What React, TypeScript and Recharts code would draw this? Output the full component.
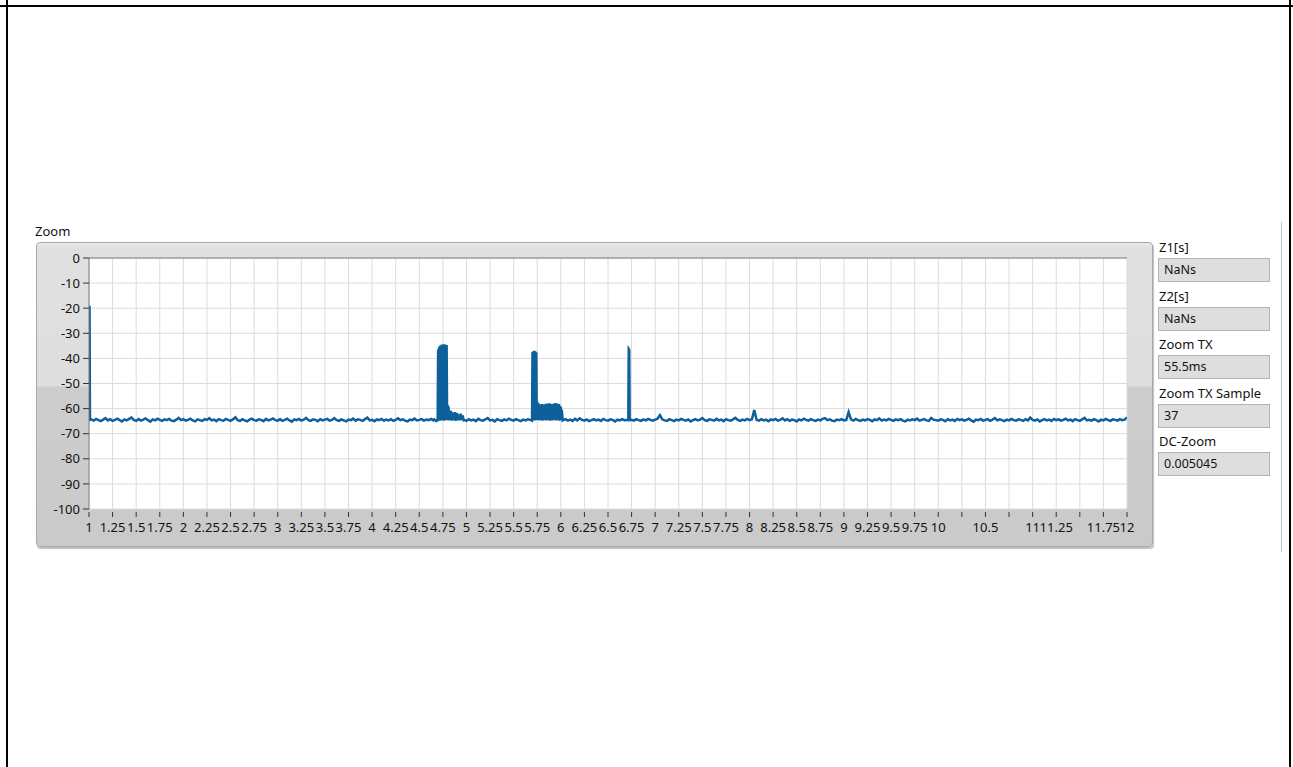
import { LineChart, Line, XAxis, YAxis, CartesianGrid, ReferenceLine } from "recharts"

// sweep start: first sample sits high, then drops to the floor
const leadIn: [number, number][] = [
  [1.006, -19],
  [1.01, -64.5],
]

// quiet floor, 0.025 s between samples
const quiet1Start = 1.025
const quiet1 = [
  -64.3, -64.8, -64.1, -64.6, -65.0, -64.4, -63.8, -64.7, -64.2, -64.9,
  -64.5, -64.0, -64.6, -65.1, -64.3, -64.7, -64.1, -63.6, -64.5, -64.9,
  -64.2, -64.8, -64.4, -63.9, -64.6, -65.2, -64.3, -64.7, -64.0, -64.5,
  -64.9, -64.3, -64.6, -64.1, -64.8, -65.0, -64.4, -63.7, -64.6, -64.2,
  -64.8, -64.5, -64.0, -64.7, -65.1, -64.3, -64.6, -64.9, -64.2, -64.5,
  -63.8, -64.7, -64.4, -65.0, -64.2, -64.6, -64.8, -64.1, -64.5, -64.9,
  -64.3, -63.5, -64.6, -64.9, -64.2, -64.7, -65.1, -64.4, -64.0, -64.6,
  -64.8, -64.3, -64.5, -65.0, -64.1, -64.7, -64.4, -63.9, -64.6, -64.8,
  -64.2, -64.9, -64.5, -64.0, -64.7, -65.2, -64.3, -64.6, -64.1, -64.8,
  -64.4, -63.7, -64.6, -64.9, -64.3, -64.5, -65.0, -64.2, -64.7, -64.4,
  -64.1, -64.8, -64.5, -63.8, -64.6, -64.9, -64.3, -64.7, -65.1, -64.4,
  -64.6, -64.0, -64.8, -64.3, -64.5, -64.9, -64.2, -63.6, -64.7, -64.5,
  -65.0, -64.3, -64.6, -64.1, -64.8, -64.4, -64.7, -64.2, -64.9, -64.5,
  -63.9, -64.6, -64.3, -64.8, -65.1, -64.4, -64.6, -64.0, -64.7, -64.5,
  -64.2, -64.8, -64.4, -64.6, -64.1, -64.7,
]

const burst1: [number, number][] = [
  [4.66, -64.3], [4.68, -64.9], [4.695, -64.6], [4.7, -36.5], [4.705, -64.5],
  [4.71, -35.6], [4.715, -64.8], [4.72, -35.0], [4.725, -64.4], [4.73, -34.8],
  [4.735, -64.7], [4.74, -34.5], [4.745, -64.6], [4.75, -34.6], [4.755, -64.3],
  [4.76, -34.4], [4.765, -64.8], [4.77, -34.5], [4.775, -64.5], [4.78, -34.6],
  [4.785, -64.4], [4.79, -34.7], [4.795, -64.6], [4.8, -58.5], [4.805, -64.2],
  [4.81, -59.2], [4.815, -64.7], [4.82, -61.5], [4.825, -64.5], [4.83, -60.8],
  [4.835, -64.6], [4.84, -61.2], [4.845, -64.8], [4.85, -61.7], [4.855, -64.3],
  [4.86, -62.0], [4.865, -64.6], [4.87, -61.6], [4.875, -64.4], [4.88, -61.4],
  [4.885, -64.9], [4.89, -62.2], [4.895, -64.5], [4.9, -61.8], [4.905, -64.4],
  [4.91, -62.5], [4.915, -64.7], [4.92, -62.3], [4.93, -64.7], [4.94, -62.0],
  [4.95, -64.5], [4.96, -62.8], [4.97, -64.6],
]

const quiet2Start = 4.975
const quiet2 = [
  -64.5, -64.9, -64.2, -64.7, -64.4, -65.0, -64.1, -64.6, -64.8, -64.3,
  -63.8, -64.7, -64.5, -65.1, -64.2, -64.6, -64.9, -64.3, -64.7, -64.0,
  -64.5, -64.8, -64.2, -64.6, -65.0, -64.4, -64.7, -64.3,
]

const burst2: [number, number][] = [
  [5.675, -64.5], [5.695, -64.8], [5.7, -37.5], [5.705, -64.6], [5.71, -37.2],
  [5.715, -64.3], [5.72, -37.0], [5.725, -64.7], [5.73, -37.3], [5.735, -64.5],
  [5.74, -37.6], [5.745, -64.4],
  [5.75, -57.2], [5.755, -64.6], [5.76, -57.8], [5.765, -64.3], [5.77, -59.0],
  [5.775, -64.7], [5.78, -58.3], [5.785, -64.5], [5.79, -58.6], [5.795, -64.4],
  [5.8, -58.2], [5.805, -64.8], [5.81, -58.9], [5.815, -64.3], [5.82, -58.4],
  [5.825, -64.6], [5.83, -58.7], [5.835, -64.5], [5.84, -58.1], [5.845, -64.7],
  [5.85, -58.5], [5.855, -64.4], [5.86, -58.0], [5.865, -64.6], [5.87, -58.6],
  [5.875, -64.3], [5.88, -57.9], [5.885, -64.8], [5.89, -58.4], [5.895, -64.5],
  [5.9, -58.2], [5.905, -64.4], [5.91, -58.8], [5.915, -64.7], [5.92, -58.1],
  [5.925, -64.5], [5.93, -58.5], [5.935, -64.6], [5.94, -57.8], [5.945, -64.3],
  [5.95, -58.3], [5.955, -64.7], [5.96, -58.0], [5.965, -64.5], [5.97, -58.6],
  [5.975, -64.4], [5.98, -58.2], [5.985, -64.8], [5.99, -58.9], [5.995, -64.5],
  [6.0, -59.3], [6.005, -64.6], [6.01, -60.5], [6.02, -64.7],
]

const quiet3Start = 6.025
const quiet3 = [
  -64.6, -64.2, -64.8, -64.4, -64.9, -64.1, -64.7, -63.9, -64.5, -64.8,
  -64.3, -65.0, -64.6, -64.2, -64.7, -64.4, -64.9, -64.1, -64.6, -64.8,
  -64.3, -64.5, -65.1, -64.4, -64.7, -64.2, -64.6, -64.5,
]

const burst3: [number, number][] = [
  [6.715, -64.5], [6.72, -36.3], [6.725, -36.6], [6.73, -64.6],
]

const quiet4Start = 6.75
const quiet4 = [
  -64.5, -64.8, -64.2, -64.6, -64.9, -64.3, -64.7, -64.1, -64.5, -64.8,
  -64.4, -64.0, -62.6, -64.3, -64.7, -64.9, -64.2, -64.6, -65.0, -64.4,
  -64.7, -64.1, -64.5, -64.8, -64.3, -65.1, -64.6, -64.2, -64.7, -64.4,
  -63.8, -64.6, -64.9, -64.3, -64.5, -64.8, -64.1, -64.7, -64.4, -65.0,
  -64.2, -64.6, -64.8, -64.3, -63.7, -64.5, -64.9, -64.4, -64.7, -64.1,
  -64.6, -64.3, -60.6, -64.5, -64.8, -64.2, -64.7, -64.4, -65.0, -64.3,
  -64.6, -64.1, -64.8, -64.5, -63.9, -64.7, -64.2, -64.9, -64.4, -64.6,
  -65.1, -64.3, -64.7, -64.0, -64.5, -64.8, -64.2, -64.6, -64.9, -64.4,
  -64.7, -64.1, -63.8, -64.6, -64.3, -64.8, -65.0, -64.4, -64.6, -64.2,
  -64.7, -64.5, -61.4, -64.3, -64.8, -64.1, -64.6, -64.9, -64.4, -64.7,
  -64.2, -64.5, -65.0, -64.3, -64.6, -63.9, -64.8, -64.4, -64.7, -64.1,
  -64.5, -64.9, -64.3, -64.6, -64.2, -64.8, -65.1, -64.4, -64.7, -64.3,
  -64.6, -64.0, -64.8, -64.5, -64.2, -64.7, -64.9, -63.7, -64.4, -64.6,
  -64.8, -64.3, -64.5, -65.0, -64.2, -64.7, -64.4, -64.9, -64.1, -64.6,
  -64.3, -64.8, -64.5, -64.0, -64.7, -65.2, -64.4, -64.6, -64.1, -64.8,
  -64.5, -64.2, -64.9, -64.4, -63.8, -64.7, -64.3, -64.6, -65.0, -64.4,
  -64.7, -64.1, -64.6, -64.8, -64.3, -64.5, -64.9, -64.2, -64.7, -63.6,
  -64.5, -64.8, -64.3, -65.1, -64.6, -64.2, -64.7, -64.4, -64.9, -64.1,
  -64.6, -64.3, -64.8, -64.5, -64.0, -64.7, -64.4, -65.0, -64.2, -64.6,
  -64.9, -64.3, -63.7, -64.7, -64.5, -64.8, -64.2, -64.6, -65.1, -64.4,
  -64.7, -64.1, -64.6, -64.9, -64.3, -64.5, -64.8, -64.2, -64.6, -64.4,
  -63.5,
]

const sampleStep = 0.025

const xTicks = [
  1, 1.25, 1.5, 1.75, 2, 2.25, 2.5, 2.75, 3, 3.25, 3.5, 3.75, 4, 4.25, 4.5, 4.75,
  5, 5.25, 5.5, 5.75, 6, 6.25, 6.5, 6.75, 7, 7.25, 7.5, 7.75, 8, 8.25, 8.5, 8.75,
  9, 9.25, 9.5, 9.75, 10, 10.25, 10.5, 10.75, 11, 11.25, 11.5, 11.75, 12,
]
// labels LabVIEW dropped because they would collide
const hiddenXLabels = [10.25, 10.75, 11.5]
const yTicks = [0, -10, -20, -30, -40, -50, -60, -70, -80, -90, -100]

const readouts = [
  { label: "Z1[s]", value: "NaNs" },
  { label: "Z2[s]", value: "NaNs" },
  { label: "Zoom TX", value: "55.5ms" },
  { label: "Zoom TX Sample", value: "37" },
  { label: "DC-Zoom", value: "0.005045" },
]

const even = (start: number, vals: number[]) =>
  vals.map((v, i) => [Math.round((start + i * sampleStep) * 1000) / 1000, v] as [number, number])

const data = [
  ...leadIn,
  ...even(quiet1Start, quiet1),
  ...burst1,
  ...even(quiet2Start, quiet2),
  ...burst2,
  ...even(quiet3Start, quiet3),
  ...burst3,
  ...even(quiet4Start, quiet4),
].map(([t, v]) => ({ t, v }))

const FONT = "'Noto Sans', sans-serif"

const XTick = ({ x, y, payload }: any) => (
  <g>
    <line x1={x} x2={x} y1={y + 3} y2={y + 8} stroke="#333" />
    {!hiddenXLabels.includes(payload.value) && (
      <text x={x} y={y + 23} textAnchor="middle" fontSize={13} fill="#111" fontFamily={FONT}>
        {payload.value}
      </text>
    )}
  </g>
)

export default function App() {
  return (
    <div style={{ position: "absolute", left: 0, top: 0, width: 1293, height: 767, background: "#fff", overflow: "hidden", fontFamily: FONT }}>
      {/* page frame */}
      <div style={{ position: "absolute", left: 0, top: 5, width: 1293, height: 2, background: "#000" }} />
      <div style={{ position: "absolute", left: 6, top: 0, width: 2, height: 767, background: "#000" }} />
      <div style={{ position: "absolute", left: 1289, top: 0, width: 2, height: 767, background: "#000" }} />
      <div style={{ position: "absolute", left: 1281, top: 222, width: 1, height: 330, background: "#c8c8c8" }} />

      <div style={{ position: "absolute", left: 35, top: 222, fontSize: 13, color: "#111" }}>Zoom</div>

      {/* graph panel */}
      <div
        style={{
          position: "absolute",
          left: 36,
          top: 242,
          width: 1115,
          height: 303,
          border: "1px solid #a8a8a8",
          borderRadius: 4,
          background: "linear-gradient(to bottom, #e9e9e9 0px, #e0e0e0 6px, #dedede 143px, #cdcdcd 144px, #cacaca 100%)",
          boxShadow: "1px 2px 1px rgba(0,0,0,0.25)",
        }}
      />
      <div style={{ position: "absolute", left: 36, top: 242 }}>
        <LineChart width={1117} height={305} data={data} margin={{ top: 16, right: 26, bottom: 8, left: 0 }}>
          <CartesianGrid stroke="#dcdcdc" fill="#fff" />
          <XAxis
            dataKey="t"
            type="number"
            domain={[1, 12]}
            ticks={xTicks}
            interval={0}
            axisLine={false}
            tickLine={false}
            tickSize={0}
            tickMargin={0}
            height={30}
            tick={<XTick />}
            allowDataOverflow
          />
          <YAxis
            type="number"
            domain={[-100, 0]}
            ticks={yTicks}
            interval={0}
            width={53}
            tickSize={6}
            tickMargin={3}
            axisLine={{ stroke: "#7a7a7a" }}
            tickLine={{ stroke: "#333" }}
            tick={{ fontSize: 13, fill: "#111", fontFamily: FONT }}
          />
          <ReferenceLine y={0} stroke="#7a7a7a" />
          <Line
            dataKey="v"
            type="linear"
            stroke="#0d609b"
            strokeWidth={2.5}
            dot={false}
            isAnimationActive={false}
          />
        </LineChart>
      </div>

      {/* readouts */}
      {readouts.map((r, i) => (
        <div key={r.label} style={{ position: "absolute", left: 1158, top: 238 + i * 48.5 }}>
          <div style={{ fontSize: 13, color: "#111", height: 20, lineHeight: "18px", paddingLeft: 1 }}>{r.label}</div>
          <div
            style={{
              width: 112,
              height: 24,
              background: "#dedede",
              border: "1px solid #b4b4b4",
              fontSize: 12.5,
              color: "#111",
              lineHeight: "22px",
              paddingLeft: 5,
              boxSizing: "border-box",
            }}
          >
            {r.value}
          </div>
        </div>
      ))}
    </div>
  )
}
